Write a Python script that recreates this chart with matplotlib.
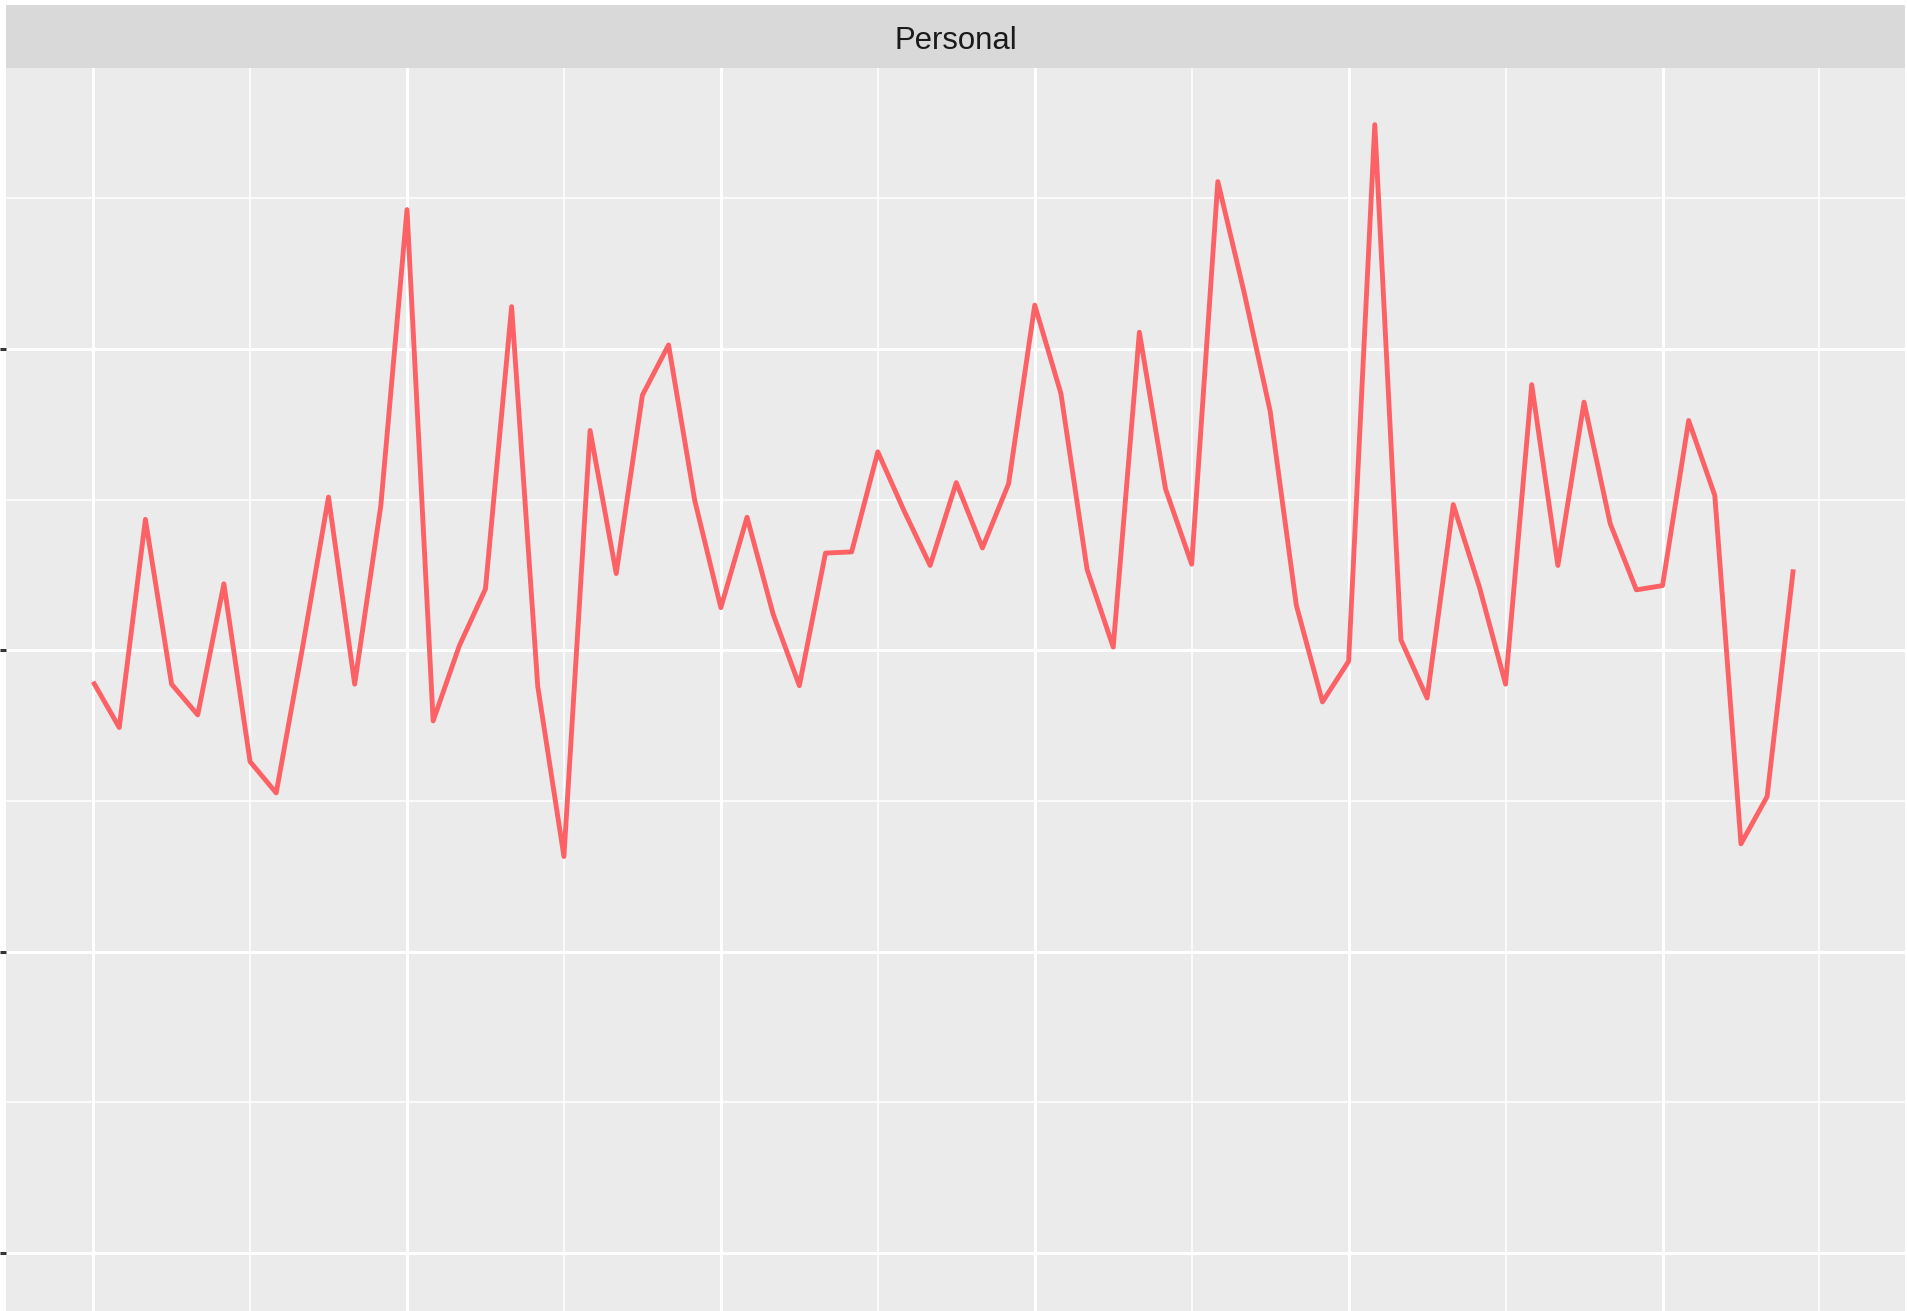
import matplotlib
matplotlib.use("Agg")
import matplotlib.pyplot as plt
import numpy as np

# monthly series, one panel ("Personal")
panel_title = "Personal"
values = [
    189.6, 174.4, 243.5, 188.8, 178.6, 222.1, 163.1, 152.7, 200.6, 250.9,
    188.8, 248.1, 346.3, 176.6, 201.5, 220.4, 314.1, 188.0, 131.6, 273.0,
    225.5, 284.7, 301.4, 249.8, 214.2, 244.2, 212.0, 188.3, 232.3, 232.7,
    265.9, 246.4, 228.2, 255.7, 234.0, 255.3, 314.6, 285.3, 226.9, 201.1,
    305.6, 253.6, 228.6, 355.6, 319.0, 279.4, 215.0, 182.9, 196.4, 374.5,
    203.5, 184.2, 248.4, 221.0, 188.8, 288.2, 228.2, 282.4, 242.1, 220.1,
    221.5, 276.3, 251.4, 135.8, 151.5, 226.9,
]
months = np.arange(len(values))
x_major = [0, 12, 24, 36, 48, 60]
x_minor = [6, 18, 30, 42, 54, 66]
y_major = [0, 100, 200, 300]
y_minor = [50, 150, 250, 350]

W, H = 1908, 1311
fig = plt.figure(figsize=(W / 100, H / 100), dpi=100)
fig.patch.set_facecolor("white")

def frac(x0, y0, x1, y1):
    # pixel box (top-left origin) -> figure fraction
    return [x0 / W, 1 - y1 / H, (x1 - x0) / W, (y1 - y0) / H]

ax = fig.add_axes(frac(6, 68, 1905.5, H))
ax.set_facecolor("#EBEBEB")
ax.set_xlim(-3.33, 69.29)
ax.set_ylim(-19.25, 393.3)

for x in x_minor:
    ax.axvline(x, color="white", lw=1.1, zorder=1)
for y in y_minor:
    ax.axhline(y, color="white", lw=1.1, zorder=1)
for x in x_major:
    ax.axvline(x, color="white", lw=2.2, zorder=1)
for y in y_major:
    ax.axhline(y, color="white", lw=2.2, zorder=1)

ax.plot(months, values, color="#FC6165", lw=3.5, zorder=3,
        solid_joinstyle="round", solid_capstyle="butt")

ax.set_xticks(x_major)
ax.set_yticks(y_major)
ax.set_xticklabels([])
ax.set_yticklabels([])
ax.tick_params(axis="both", length=4.3, width=2.2, color="#333333",
               direction="out")
for s in ax.spines.values():
    s.set_visible(False)

# facet strip
sax = fig.add_axes(frac(6, 5, 1905.5, 68))
sax.set_facecolor("#D9D9D9")
sax.set_xticks([])
sax.set_yticks([])
for s in sax.spines.values():
    s.set_visible(False)
fig.text(955.5 / W, 1 - 49 / H, panel_title, ha="center", va="baseline",
         fontsize=22.4, color="#1A1A1A", family="Liberation Sans")

fig.savefig("out.png", dpi=100)
